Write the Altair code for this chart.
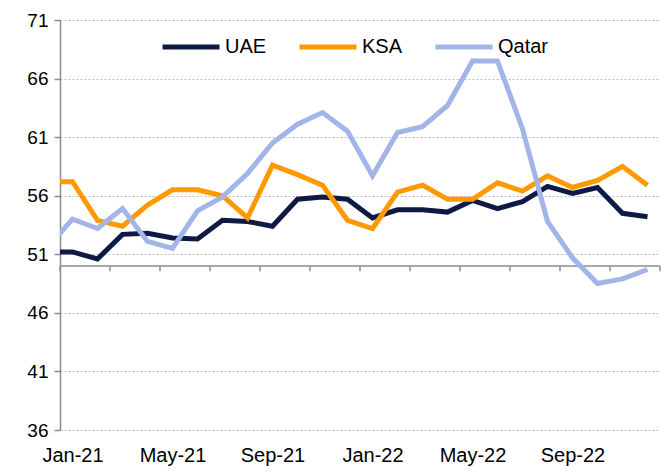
import json
import altair as alt
import pandas as pd

# Monthly index values (Dec-20 is only partly visible at the left edge)
months = ["Dec-20", "Jan-21", "Feb-21", "Mar-21", "Apr-21", "May-21", "Jun-21",
          "Jul-21", "Aug-21", "Sep-21", "Oct-21", "Nov-21", "Dec-21",
          "Jan-22", "Feb-22", "Mar-22", "Apr-22", "May-22", "Jun-22",
          "Jul-22", "Aug-22", "Sep-22", "Oct-22", "Nov-22", "Dec-22"]
uae = [51.2, 51.2, 50.6, 52.7, 52.8, 52.4, 52.3, 53.9, 53.8, 53.4, 55.7, 55.9, 55.7,
       54.1, 54.8, 54.8, 54.6, 55.6, 54.9, 55.5, 56.8, 56.2, 56.7, 54.5, 54.2]
ksa = [57.2, 57.2, 53.9, 53.4, 55.2, 56.5, 56.5, 56.0, 54.1, 58.6, 57.8, 56.9, 53.9,
       53.2, 56.3, 56.9, 55.7, 55.7, 57.1, 56.4, 57.7, 56.7, 57.3, 58.5, 56.9]
qatar = [51.6, 54.0, 53.2, 54.9, 52.1, 51.5, 54.7, 55.9, 57.9, 60.5, 62.1, 63.1, 61.5,
         57.7, 61.4, 61.9, 63.7, 67.5, 67.5, 61.7, 53.8, 50.7, 48.5, 48.9, 49.7]

series = ["UAE", "KSA", "Qatar"]
colors = ["#0E1A45", "#FF9900", "#A2B4E8"]
y_ticks = [36, 41, 46, 51, 56, 61, 66, 71]
x_label_months = ["Jan-21", "May-21", "Sep-21", "Jan-22", "May-22", "Sep-22"]
axis_cross = 50

rows = []
for name, vals in zip(series, [uae, ksa, qatar]):
    for k, (m, v) in enumerate(zip(months, vals)):
        rows.append({"series": name, "month": m, "i": k - 1, "value": v})
df = pd.DataFrame(rows)

n_vis = len(months) - 1  # visible months Jan-21..Dec-22
x_lo, x_hi = -0.5, n_vis - 0.5
label_vals = [months.index(m) - 1 for m in x_label_months]
label_expr = json.dumps(months) + "[datum.value + 1]"

FONT = "Liberation Sans"
xscale = alt.Scale(domain=[x_lo, x_hi], nice=False, zero=False)
yscale = alt.Scale(domain=[min(y_ticks), max(y_ticks)], nice=False, zero=False)

x_enc = alt.X("i:Q", scale=xscale,
              axis=alt.Axis(values=label_vals, labelExpr=label_expr, domain=False,
                            ticks=False, grid=False, title=None, labelFontSize=20,
                            labelFont=FONT, labelColor="black", labelPadding=15,
                            labelFlush=False, labelOverlap=False))
y_enc = alt.Y("value:Q", scale=yscale,
              axis=alt.Axis(values=y_ticks, grid=True, gridDash=[2, 2],
                            gridColor="#BDBDBD", gridWidth=1,
                            domainColor="#8C8C8C", domainWidth=1.5,
                            tickColor="#8C8C8C", tickWidth=1.5, tickSize=6,
                            labelFontSize=19, labelFont=FONT, labelColor="black",
                            labelPadding=6, title=None, labelFlush=False,
                            labelOverlap=False))
color_enc = alt.Color("series:N", scale=alt.Scale(domain=series, range=colors),
                      legend=alt.Legend(orient="none", legendX=100, legendY=-4,
                                        direction="horizontal", title=None,
                                        symbolType="stroke", symbolStrokeWidth=5,
                                        symbolSize=3249, labelFontSize=20,
                                        labelFont=FONT, labelColor="black",
                                        columnPadding=22, labelOffset=3,
                                        padding=0))

layers = []
for name in series:
    layers.append(
        alt.Chart(df).transform_filter(alt.datum.series == name)
        .mark_line(strokeWidth=5, clip=True)
        .encode(x=x_enc, y=y_enc, color=color_enc)
    )

# horizontal category axis crossing at 50, with ticks every two months
axis_df = pd.DataFrame({"x": [x_lo], "x2": [x_hi], "y": [axis_cross]})
axis_line = alt.Chart(axis_df).mark_rule(color="#8C8C8C", strokeWidth=1.5).encode(
    x=alt.X("x:Q", scale=xscale), x2="x2:Q", y=alt.Y("y:Q", scale=yscale))
tick_df = pd.DataFrame({"x": [x_lo + 2 * k for k in range(n_vis // 2 + 1)]})
axis_ticks = alt.Chart(tick_df).mark_rule(color="#8C8C8C", strokeWidth=1.5).encode(
    x=alt.X("x:Q", scale=xscale),
    y=alt.datum(axis_cross, scale=yscale),
    y2=alt.datum(axis_cross - 0.45))

chart = alt.layer(axis_line, axis_ticks, *layers).properties(
    width=600, height=410,
    autosize=alt.AutoSizeParams(type="none"),
    padding={"left": 52, "top": 12, "right": 4, "bottom": 40},
    background="white",
).configure_view(stroke=None)

chart.save("out.html", embed_options={"renderer": "svg", "actions": False})
